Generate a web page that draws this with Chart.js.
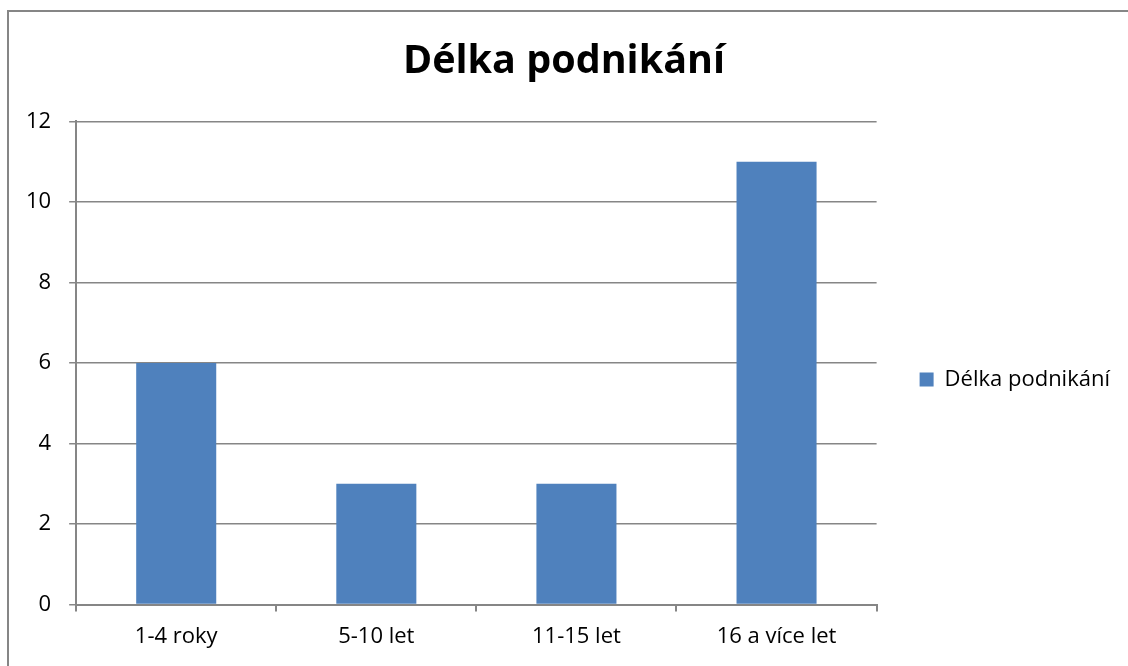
<!doctype html>
<html lang="cs">
<head>
  <meta charset="utf-8">
  <title>Délka podnikání</title>
  <script src="https://cdn.jsdelivr.net/npm/chart.js"></script>
  <style>
    html,body{margin:0;padding:0;background:#fff;}
    .wrap{width:1128px;height:666px;position:relative;}
  </style>
</head>
<body>
  <div class="wrap"><canvas id="chart"></canvas></div>

  <script>
    /* ─── data ─── */
    const CATEGORIES = ['1-4 roky','5-10 let','11-15 let','16 a více let'];
    const VALUES     = [6,3,3,11];
    const SERIES     = 'Délka podnikání';
    const TITLE      = 'Délka podnikání';

    const BAR  = '#4f81bd';
    const GRID = '#868686';
    const FONT = "'Open Sans', sans-serif";

    // outer frame of the chart object
    const framePlugin={
      id:'frame',
      beforeDraw({ctx}){
        ctx.save();
        ctx.strokeStyle=GRID;
        ctx.lineWidth=2;
        ctx.strokeRect(8,11,1300,1000);
        ctx.restore();
      }
    };

    new Chart(document.getElementById('chart'),{
      type:'bar',
      data:{
        labels:CATEGORIES,
        datasets:[{
          label:SERIES, data:VALUES,
          backgroundColor:BAR, borderWidth:0,
          categoryPercentage:1, barPercentage:0.4
        }]
      },
      options:{
        responsive:true, maintainAspectRatio:false, animation:false,
        layout:{padding:{left:8,right:8,top:14,bottom:4}},
        plugins:{
          tooltip:{enabled:false},
          title:{
            display:true, text:TITLE, color:'#000',
            font:{family:FONT,size:39.5,weight:'bold'},
            padding:{top:24,bottom:36}
          },
          legend:{
            position:'right',
            // blank legend title, only pushes the entry down a little
            title:{display:true, text:' ', font:{size:1}, padding:{top:0,bottom:82}},
            labels:{
              color:'#000', font:{family:FONT,size:22},
              boxWidth:14, boxHeight:14, padding:43
            }
          }
        },
        scales:{
          x:{
            grid:{drawOnChartArea:false, drawTicks:true, tickLength:7, color:GRID, lineWidth:2},
            border:{color:GRID, width:2},
            ticks:{color:'#000', font:{family:FONT,size:22}, padding:12}
          },
          y:{
            min:0, max:12,
            grid:{color:GRID, lineWidth:1.5, tickLength:7},
            border:{color:GRID, width:2},
            ticks:{stepSize:2, color:'#000', font:{family:FONT,size:22}, padding:18}
          }
        }
      },
      plugins:[framePlugin]
    });
  </script>
</body>
</html>
